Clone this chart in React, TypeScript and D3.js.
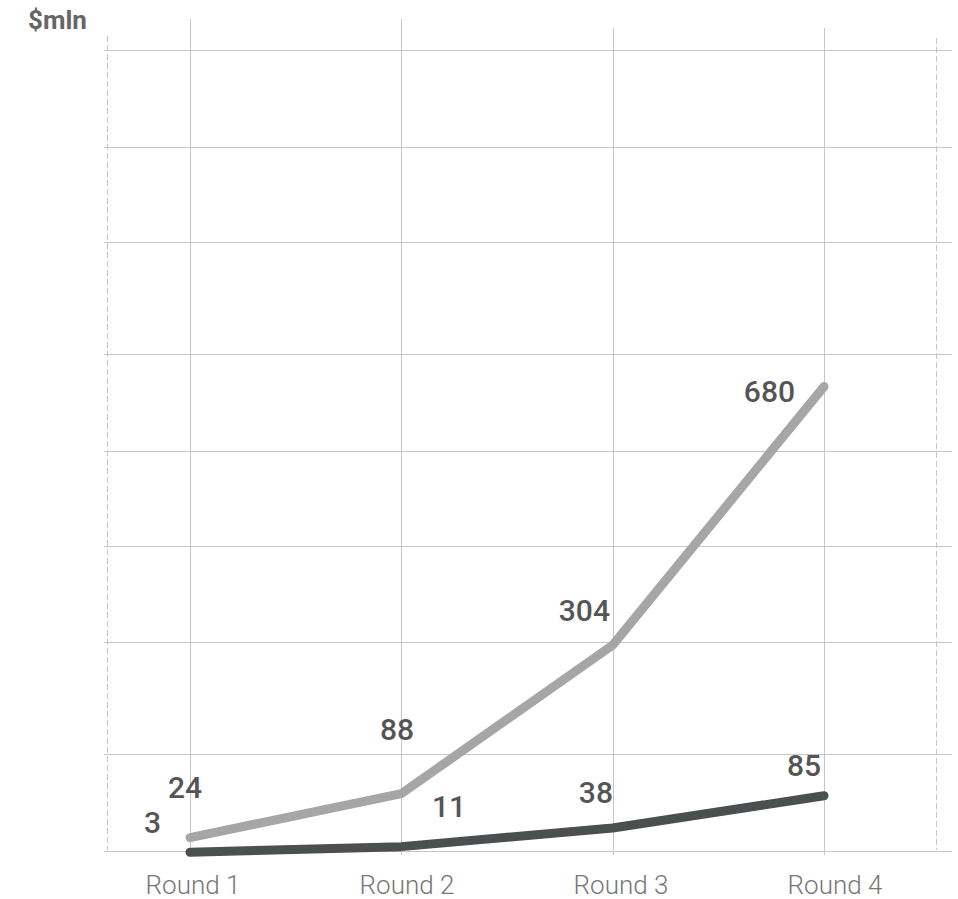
import React from "react";
import * as d3 from "d3";

// ---- data ----
const rounds = ["Round 1", "Round 2", "Round 3", "Round 4"];
const seriesLight = [24, 88, 304, 680];
const seriesDark = [3, 11, 38, 85];
const gridValues = [5, 145, 308, 447.5, 587, 727, 890, 1029, 1169];
const unitLabel = "$mln";

// ---- layout ----
const W = 958;
const H = 899;
const x = d3.scalePoint<string>().domain(rounds).range([190, 824]);
const xLabel = d3.scalePoint<string>().domain(rounds).range([193, 835]);
const y = d3.scaleLinear().domain([0, 680]).range([854.2, 386.6]);

const lightOffsets: [number, number][] = [
  [12, -39.7],
  [12.7, -53.7],
  [-2.7, -24.2],
  [-29, 15.4],
];
const darkOffsets: [number, number][] = [
  [-29, -19.1],
  [64.7, -29.6],
  [0.3, -25.1],
  [-3, -19.8],
];
const vTops = [19, 19, 28, 28];

const gridColor = "#c6c6c6";
const lightColor = "#a6a6a6";
const darkColor = "#4b4f50";
const FONT = "Roboto, 'Noto Sans', sans-serif";

export default function App() {
  const line = d3
    .line<number>()
    .x((_, i) => x(rounds[i]) as number)
    .y((d) => y(d));

  return (
    <svg
      width={W}
      height={H}
      style={{ position: "absolute", left: 0, top: 0, background: "#fff" }}
      fontFamily={FONT}
    >
      {/* horizontal grid */}
      {gridValues.map((v, i) => (
        <line
          key={"h" + i}
          x1={104}
          x2={952}
          y1={Math.round(y(v)) + 0.5}
          y2={Math.round(y(v)) + 0.5}
          stroke={gridColor}
          strokeWidth={1}
        />
      ))}
      {/* vertical grid */}
      {rounds.map((r, i) => (
        <line
          key={"v" + i}
          x1={Math.round(x(r) as number) + 0.5}
          x2={Math.round(x(r) as number) + 0.5}
          y1={vTops[i]}
          y2={855}
          stroke={gridColor}
          strokeWidth={1}
        />
      ))}
      {/* dashed borders */}
      <line x1={107.5} x2={107.5} y1={36} y2={850} stroke={gridColor} strokeWidth={1} strokeDasharray="6 3" />
      <line x1={936.5} x2={936.5} y1={38} y2={850} stroke={gridColor} strokeWidth={1} strokeDasharray="6 3" />

      {/* lines */}
      <path
        d={line(seriesLight) || ""}
        fill="none"
        stroke={lightColor}
        strokeWidth={9}
        strokeLinecap="round"
        strokeLinejoin="round"
      />
      <path
        d={line(seriesDark) || ""}
        fill="none"
        stroke={darkColor}
        strokeWidth={9}
        strokeLinecap="round"
        strokeLinejoin="round"
      />

      {/* value labels */}
      {seriesLight.map((v, i) => (
        <text
          key={"lt" + i}
          x={(x(rounds[i]) as number) + lightOffsets[i][0]}
          y={y(v) + lightOffsets[i][1]}
          textAnchor="end"
          fontSize={30}
          fontWeight={500}
          fill="#555555"
        >
          {v}
        </text>
      ))}
      {seriesDark.map((v, i) => (
        <text
          key={"dt" + i}
          x={(x(rounds[i]) as number) + darkOffsets[i][0]}
          y={y(v) + darkOffsets[i][1]}
          textAnchor="end"
          fontSize={30}
          fontWeight={500}
          fill="#555555"
        >
          {v}
        </text>
      ))}

      {/* x axis labels */}
      {rounds.map((r) => (
        <text
          key={"xl" + r}
          x={xLabel(r) as number}
          y={894}
          textAnchor="middle"
          fontSize={26}
          fontWeight={300}
          fill="#777777"
        >
          {r}
        </text>
      ))}

      {/* unit label */}
      <text x={28} y={29} fontSize={26} fontWeight={700} fill="#666666">
        {unitLabel}
      </text>
    </svg>
  );
}
